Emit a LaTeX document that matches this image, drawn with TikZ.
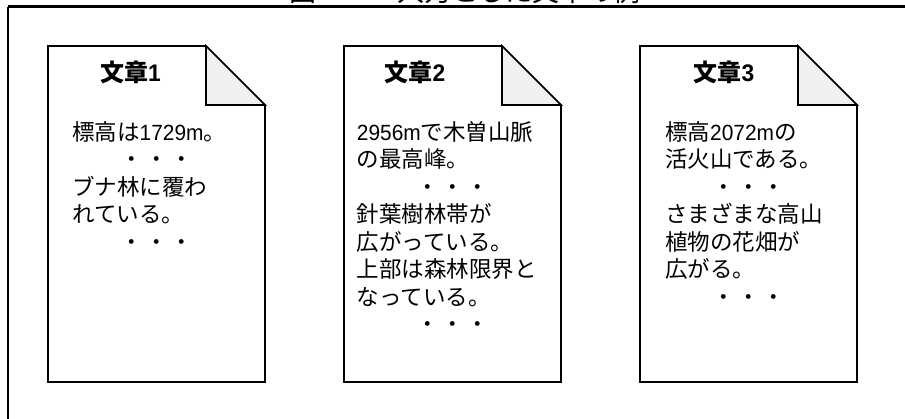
\documentclass[tikz,border=0pt]{standalone}
\usepackage{fontspec}
\setmainfont{Noto Sans CJK JP}
\newfontfamily\latfont{Liberation Sans}[FakeStretch=0.95]
\begin{document}
\begin{tikzpicture}[x=1pt,y=-1pt,
  docshape/.style={draw=black, line width=1.7pt, fill=white, line join=miter},
  foldshape/.style={draw=black, line width=1.7pt, fill=gray!12, line join=miter},
  framestyle/.style={draw=black, line width=2.6pt},
  doctitle/.style={font=\fontsize{24}{28}\selectfont\bfseries, inner sep=0pt, anchor=center},
  bodytext/.style={font=\fontsize{22.5}{27.5}\selectfont, inner sep=0pt, anchor=north west, align=left},
  figtitle/.style={font=\fontsize{27}{30}\selectfont, inner sep=0pt, anchor=base}]
\useasboundingbox (0,0) rectangle (905,418);
\clip (0,0) rectangle (905,418);
\newcommand{\mydots}[1]{\makebox[#1pt][c]{・\kern2.5pt・\kern2.5pt・}}
\newcommand{\lat}[1]{{\latfont\fontsize{22}{27.5}\selectfont #1}}
\newcommand{\latb}[1]{{\latfont\bfseries #1}}
\newcommand{\mydoc}[1]{%
  \draw[docshape] (#1,46) -- (#1+158,46) -- (#1+217,105) -- (#1+217,382) -- (#1,382) -- cycle;
  \draw[foldshape] (#1+158,46) -- (#1+158,105) -- (#1+217,105) -- cycle;}
% frame
\coordinate (fbl) at (8,440);
\coordinate (ftl) at (8,6.5);
\coordinate (ftr) at (920,6.5);
\draw[framestyle, line width=2pt] (fbl) -- (ftl);
\draw[framestyle] (ftl) -- (ftr);
\node[figtitle] (title) at (464.5,1.5) {図　　　入力とした文章の例};
% documents
\mydoc{48}
\mydoc{344}
\mydoc{640}
\node[doctitle] (t1) at (130.5,72) {文章\latb{1}};
\node[doctitle] (t2) at (415,72) {文章\latb{2}};
\node[doctitle] (t3) at (724,72) {文章\latb{3}};
\node[bodytext, text width=169pt] (b1) at (72,121) {標高は\lat{1729m}。\\\mydots{169}\\ブナ林に覆わ\\れている。\\\mydots{169}};
\node[bodytext, text width=191.6pt] (b2) at (356.7,121) {\lat{2956m}で木曽山脈\\の最高峰。\\\mydots{191.6}\\針葉樹林帯が\\広がっている。\\上部は森林限界と\\なっている。\\\mydots{191.6}};
\node[bodytext, text width=167pt] (b3) at (665,121) {標高\lat{2072m}の\\活火山である。\\\mydots{167}\\さまざまな高山\\植物の花畑が\\広がる。\\\mydots{167}};
\end{tikzpicture}
\end{document}
